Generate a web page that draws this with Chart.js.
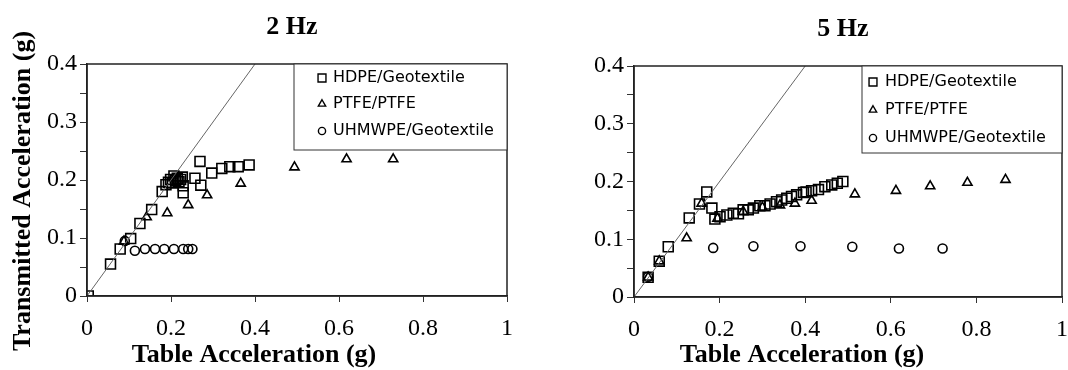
<!DOCTYPE html>
<html>
<head>
<meta charset="utf-8">
<script src="https://cdn.jsdelivr.net/npm/chart.js@4.4.0/dist/chart.umd.min.js"></script>
<style>
  html, body { margin: 0; padding: 0; background: #fff; overflow: hidden; }
  #wrap { position: relative; width: 1068px; height: 370px; }
  .box { position: absolute; top: 0; height: 370px; }
</style>
</head>
<body>
<div id="wrap">
  <div class="box" style="left:0;width:534px"><canvas id="chart2" width="534" height="370"></canvas></div>
  <div class="box" style="left:534px;width:537px"><canvas id="chart5" width="537" height="370"></canvas></div>
</div>
<script>
'use strict';

// ---- data ----
let seriesNames = ['HDPE/Geotextile', 'PTFE/PTFE', 'UHMWPE/Geotextile'];
let xTicks = [0, 0.2, 0.4, 0.6, 0.8, 1];
let yTicks = [0, 0.1, 0.2, 0.3, 0.4];
let diagX = [0, 0.4];
let diagY = [0, 0.4];

// 2 Hz
let hdpe2X = [0.003, 0.056, 0.079, 0.104, 0.126, 0.154, 0.179, 0.188, 0.194, 0.199, 0.203, 0.207, 0.211, 0.215, 0.219, 0.223, 0.227, 0.229, 0.229, 0.257, 0.269, 0.271, 0.297, 0.321, 0.340, 0.360, 0.386];
let hdpe2Y = [0.000, 0.055, 0.081, 0.099, 0.125, 0.149, 0.180, 0.192, 0.196, 0.201, 0.195, 0.207, 0.199, 0.203, 0.197, 0.201, 0.205, 0.190, 0.178, 0.203, 0.232, 0.191, 0.212, 0.220, 0.223, 0.223, 0.226];
let ptfe2X = [0.088, 0.142, 0.191, 0.241, 0.286, 0.366, 0.494, 0.618, 0.729];
let ptfe2Y = [0.094, 0.136, 0.143, 0.157, 0.174, 0.194, 0.222, 0.236, 0.236];
let uhmw2X = [0.090, 0.114, 0.138, 0.162, 0.184, 0.207, 0.229, 0.241, 0.251];
let uhmw2Y = [0.095, 0.078, 0.081, 0.081, 0.081, 0.081, 0.081, 0.081, 0.081];

// 5 Hz
let hdpe5X = [0.033, 0.059, 0.080, 0.129, 0.153, 0.170, 0.182, 0.189, 0.201, 0.217, 0.232, 0.244, 0.255, 0.267, 0.279, 0.294, 0.306, 0.318, 0.333, 0.345, 0.357, 0.368, 0.380, 0.396, 0.402, 0.415, 0.431, 0.446, 0.462, 0.475, 0.488];
let hdpe5Y = [0.034, 0.062, 0.087, 0.137, 0.161, 0.182, 0.154, 0.135, 0.139, 0.142, 0.145, 0.144, 0.151, 0.151, 0.154, 0.158, 0.158, 0.161, 0.165, 0.168, 0.171, 0.174, 0.177, 0.181, 0.182, 0.184, 0.186, 0.191, 0.194, 0.197, 0.200];
let ptfe5X = [0.033, 0.059, 0.123, 0.158, 0.195, 0.255, 0.300, 0.341, 0.376, 0.415, 0.516, 0.612, 0.692, 0.779, 0.868];
let ptfe5Y = [0.034, 0.062, 0.102, 0.162, 0.136, 0.148, 0.155, 0.159, 0.162, 0.167, 0.178, 0.184, 0.192, 0.198, 0.203];
let uhmw5X = [0.033, 0.185, 0.279, 0.389, 0.510, 0.619, 0.721];
let uhmw5Y = [0.035, 0.085, 0.088, 0.088, 0.087, 0.084, 0.084];

let serif = "'Liberation Serif', 'Times New Roman', serif";
let sans = "'DejaVu Sans', Arial, sans-serif";

function pts(xs, ys) {
    let out = [];
    for (let i = 0; i < xs.length; i++) {
        out.push({ x: xs[i], y: ys[i] });
    }
    return out;
}

function fmt(v) {
    let r = Math.round(v * 10) / 10;
    return r === 0 ? '0' : String(r);
}

// border on all four sides of the plot
let framePlugin = {
    id: 'frame',
    afterDraw(chart) {
        let a = chart.chartArea;
        let ctx = chart.ctx;
        ctx.save();
        ctx.strokeStyle = '#222';
        ctx.lineWidth = 1.5;
        ctx.strokeRect(a.left, a.top, a.right - a.left, a.bottom - a.top);
        ctx.restore();
    }
};

// boxed legend sitting in the top right corner of the plot
let boxLegend = {
    id: 'boxLegend',
    afterDraw(chart, args, opts) {
        let a = chart.chartArea;
        let ctx = chart.ctx;
        let left = a.right - opts.width;
        let top = a.top;
        ctx.save();
        ctx.fillStyle = '#fff';
        ctx.fillRect(left, top, opts.width, opts.height);
        ctx.strokeStyle = '#333';
        ctx.lineWidth = 1;
        ctx.strokeRect(left, top, opts.width, opts.height);
        let n = 0;
        chart.data.datasets.forEach(function (ds) {
            if (!ds.label) return;
            let y = top + opts.rows[n];
            ctx.strokeStyle = '#000';
            ctx.fillStyle = 'rgba(0,0,0,0)';
            ctx.lineWidth = 1.4;
            Chart.helpers.drawPoint(ctx, {
                pointStyle: ds.pointStyle,
                radius: ds.pointRadius * 0.8,
                rotation: 0,
                borderWidth: 1.4
            }, left + opts.markerDx, y);
            ctx.fillStyle = '#000';
            ctx.font = opts.font;
            ctx.textAlign = 'left';
            ctx.textBaseline = 'middle';
            ctx.fillText(ds.label, left + opts.textDx, y);
            n++;
        });
        ctx.restore();
    }
};

// titles placed like in the original figure
let texts = {
    id: 'texts',
    afterDraw(chart, args, opts) {
        let ctx = chart.ctx;
        ctx.save();
        ctx.fillStyle = '#000';
        ctx.textAlign = 'center';
        ctx.textBaseline = 'middle';
        opts.items.forEach(function (t) {
            ctx.save();
            ctx.font = t.font;
            ctx.translate(t.x, t.y);
            if (t.rotate) ctx.rotate(-Math.PI / 2);
            ctx.fillText(t.text, 0, 0);
            ctx.restore();
        });
        ctx.restore();
    }
};

function makeDatasets(hx, hy, px, py, ux, uy) {
    return [
        {
            label: '',
            data: pts(diagX, diagY),
            showLine: true,
            borderColor: '#666',
            borderWidth: 1,
            pointRadius: 0
        },
        {
            label: seriesNames[0],
            data: pts(hx, hy),
            pointStyle: 'rect',
            pointRadius: 7,
            pointBorderWidth: 1.6,
            borderColor: '#000',
            backgroundColor: 'rgba(0,0,0,0)'
        },
        {
            label: seriesNames[1],
            data: pts(px, py),
            pointStyle: 'triangle',
            pointRadius: 5.3,
            pointBorderWidth: 1.6,
            borderColor: '#000',
            backgroundColor: 'rgba(0,0,0,0)'
        },
        {
            label: seriesNames[2],
            data: pts(ux, uy),
            pointStyle: 'circle',
            pointRadius: 4.5,
            pointBorderWidth: 1.6,
            borderColor: '#000',
            backgroundColor: 'rgba(0,0,0,0)'
        }
    ];
}

function makeScales(yWidth, xHeight) {
    return {
        x: {
            type: 'linear',
            min: xTicks[0],
            max: xTicks[xTicks.length - 1],
            afterFit: function (s) { s.height = xHeight; },
            ticks: {
                stepSize: 0.2,
                autoSkip: false,
                maxRotation: 0,
                padding: 3,
                color: '#000',
                font: { family: serif, size: 24, lineHeight: 2 },
                callback: function (v) { return fmt(v); }
            },
            grid: { drawOnChartArea: false, tickLength: 6, color: '#333' },
            border: { display: true, color: '#222', width: 1.5 }
        },
        y: {
            type: 'linear',
            min: yTicks[0],
            max: yTicks[yTicks.length - 1],
            afterFit: function (s) { s.width = yWidth; },
            ticks: {
                stepSize: 0.05,
                autoSkip: false,
                padding: 3,
                color: '#000',
                font: { family: serif, size: 24 },
                callback: function (v) {
                    return Math.round(v * 100) % 10 === 0 ? fmt(v) : '';
                }
            },
            grid: { drawOnChartArea: false, tickLength: 7, color: '#333' },
            border: { display: true, color: '#222', width: 1.5 }
        }
    };
}

let boldFont = 'bold 26px ' + serif;

new Chart(document.getElementById('chart2'), {
    type: 'scatter',
    data: { datasets: makeDatasets(hdpe2X, hdpe2Y, ptfe2X, ptfe2Y, uhmw2X, uhmw2Y) },
    options: {
        responsive: false,
        animation: false,
        layout: { padding: { top: 64, left: 0, right: 27, bottom: 0 } },
        scales: makeScales(87, 74),
        plugins: {
            legend: { display: false },
            tooltip: { enabled: false },
            boxLegend: { width: 213, height: 86, rows: [14, 40, 67], markerDx: 28, textDx: 39, font: '16px ' + sans },
            texts: {
                items: [
                    { text: '2 Hz', x: 292, y: 27, font: boldFont },
                    { text: 'Transmitted Acceleration (g)', x: 23, y: 191, font: boldFont, rotate: true },
                    { text: 'Table Acceleration (g)', x: 254, y: 355, font: boldFont }
                ]
            }
        }
    },
    plugins: [framePlugin, boxLegend, texts]
});

new Chart(document.getElementById('chart5'), {
    type: 'scatter',
    data: { datasets: makeDatasets(hdpe5X, hdpe5Y, ptfe5X, ptfe5Y, uhmw5X, uhmw5Y) },
    options: {
        responsive: false,
        animation: false,
        layout: { padding: { top: 66, left: 0, right: 0, bottom: 0 } },
        scales: makeScales(100, 73),
        plugins: {
            legend: { display: false },
            tooltip: { enabled: false },
            boxLegend: { width: 200, height: 87, rows: [16, 44, 72], markerDx: 11, textDx: 23, font: '16px ' + sans },
            texts: {
                items: [
                    { text: '5 Hz', x: 309, y: 29, font: boldFont },
                    { text: 'Table Acceleration (g)', x: 268, y: 355, font: boldFont }
                ]
            }
        }
    },
    plugins: [framePlugin, boxLegend, texts]
});
</script>
</body>
</html>
